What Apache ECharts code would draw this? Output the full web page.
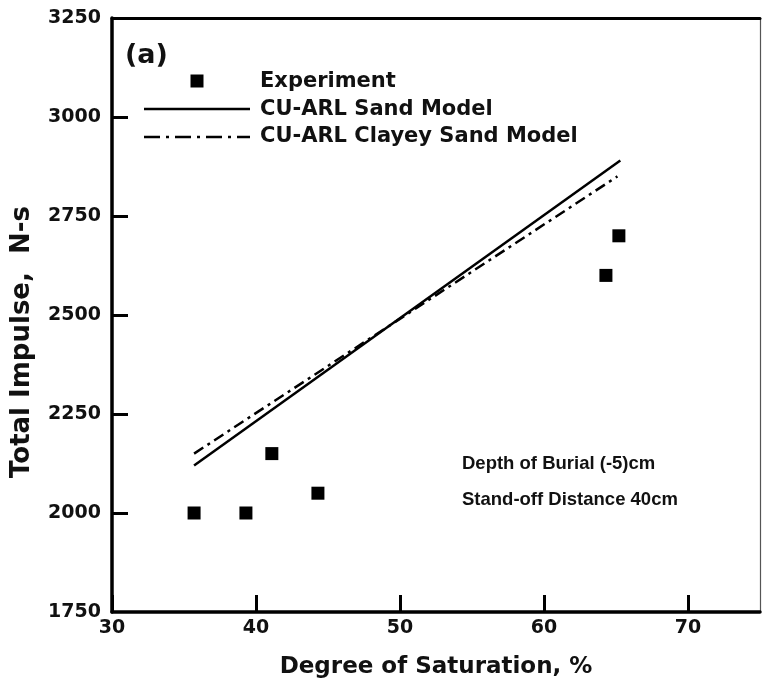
<!DOCTYPE html>
<html>
<head>
<meta charset="utf-8">
<script src="https://cdn.jsdelivr.net/npm/echarts@6/dist/echarts.min.js"></script>
<style>
html,body{margin:0;padding:0;background:#fff;}
#c{width:762px;height:686px;}
</style>
</head>
<body>
<div id="c"></div>
<script>
// Data
var expX = [35.7, 39.3, 41.1, 44.3, 64.3, 65.2];
var expY = [2000, 2000, 2150, 2050, 2600, 2700];
var sandX = [35.7, 65.3];
var sandY = [2120, 2890];
var clayX = [35.7, 65.1];
var clayY = [2150, 2850];
var xTicks = [30, 40, 50, 60, 70];
var yTicks = [1750, 2000, 2250, 2500, 2750, 3000, 3250];
var seriesNames = ['Experiment', 'CU-ARL Sand Model', 'CU-ARL Clayey Sand Model'];
var notes = ['Depth of Burial (-5)cm', 'Stand-off Distance 40cm'];

function pairs(xs, ys) { return xs.map(function (x, i) { return [x, ys[i]]; }); }

var F = 'DejaVu Sans';
var X_MIN = 30, X_MAX = 75;
var Y_MIN = 1750, Y_MAX = 3250;
var chart = echarts.init(document.getElementById('c'), null, {renderer: 'canvas'});
// 16px tick length expressed in x-axis units so the ticks go through the library's scale
var plotW = 762 - 112 - 2;
var tickLenX = 16 * (X_MAX - X_MIN) / plotW;
chart.setOption({
  animation: false,
  backgroundColor: '#fff',
  grid: {left: 112, right: 2, top: 18, bottom: 74},
  xAxis: [{
    type: 'value', min: X_MIN, max: X_MAX, interval: 10, position: 'bottom',
    axisLine: {show: true, onZero: false, lineStyle: {color: '#000', width: 3.5}},
    axisTick: {show: true, inside: true, length: 17, customValues: xTicks, lineStyle: {color: '#000', width: 3}},
    axisLabel: {show: true, margin: 7, customValues: xTicks, color: '#111', fontFamily: F, fontWeight: 'bold', fontSize: 19},
    splitLine: {show: false}
  }, {
    type: 'value', min: X_MIN, max: X_MAX, position: 'top',
    axisLine: {show: true, onZero: false, lineStyle: {color: '#000', width: 3}},
    axisTick: {show: false}, axisLabel: {show: false}, splitLine: {show: false}
  }],
  yAxis: [{
    type: 'value', min: Y_MIN, max: Y_MAX, interval: 250, position: 'left',
    axisLine: {show: true, onZero: false, lineStyle: {color: '#000', width: 3.5}},
    axisTick: {show: false},
    axisLabel: {show: true, margin: 11, color: '#111', fontFamily: F, fontWeight: 'bold', fontSize: 19,
      formatter: function (v) { return String(v); }},
    splitLine: {show: false}
  }, {
    type: 'value', min: Y_MIN, max: Y_MAX, position: 'right',
    axisLine: {show: true, onZero: false, lineStyle: {color: '#555', width: 1.2}},
    axisTick: {show: false}, axisLabel: {show: false}, splitLine: {show: false}
  }],
  series: [{
    name: seriesNames[0], type: 'scatter', symbol: 'rect', symbolSize: 13,
    itemStyle: {color: '#000', opacity: 1}, data: pairs(expX, expY), z: 5,
    markLine: {
      silent: true, symbol: ['none', 'none'],
      label: {show: false},
      lineStyle: {color: '#000', width: 3, type: 'solid'},
      data: yTicks.slice(1, -1).map(function (v) { return [{coord: [X_MIN, v]}, {coord: [X_MIN + tickLenX, v]}]; })
    }
  }, {
    name: seriesNames[1], type: 'line', showSymbol: false, symbol: 'none',
    lineStyle: {color: '#000', width: 2.5, type: 'solid'}, data: pairs(sandX, sandY)
  }, {
    name: seriesNames[2], type: 'line', showSymbol: false, symbol: 'none',
    lineStyle: {color: '#000', width: 2.5, type: [11, 5, 3, 5]}, data: pairs(clayX, clayY)
  }],
  graphic: [
    {type: 'text', x: 125, y: 56, style: {text: '(a)', font: 'bold 27px "DejaVu Sans"', fill: '#111', verticalAlign: 'middle'}},
    // legend
    {type: 'rect', shape: {x: 190.5, y: 74.5, width: 13, height: 13}, style: {fill: '#000'}},
    {type: 'line', shape: {x1: 144, y1: 109, x2: 250, y2: 109}, style: {stroke: '#000', lineWidth: 2.5}},
    {type: 'line', shape: {x1: 144, y1: 137, x2: 250, y2: 137}, style: {stroke: '#000', lineWidth: 2.5, lineDash: [16, 6, 3, 6]}},
    {type: 'text', x: 260, y: 82, style: {text: seriesNames[0], font: 'bold 21px "DejaVu Sans"', fill: '#111', verticalAlign: 'middle'}},
    {type: 'text', x: 260, y: 109.5, style: {text: seriesNames[1], font: 'bold 21px "DejaVu Sans"', fill: '#111', verticalAlign: 'middle'}},
    {type: 'text', x: 260, y: 136.5, style: {text: seriesNames[2], font: 'bold 21px "DejaVu Sans"', fill: '#111', verticalAlign: 'middle'}},
    // notes
    {type: 'text', x: 462, y: 464, style: {text: notes[0], font: 'bold 18.5px "Liberation Sans"', fill: '#111', verticalAlign: 'middle'}},
    {type: 'text', x: 462, y: 500, style: {text: notes[1], font: 'bold 18.5px "Liberation Sans"', fill: '#111', verticalAlign: 'middle'}},
    // axis titles
    {type: 'text', x: 436, y: 667, style: {text: 'Degree of Saturation, %', font: 'bold 23px "DejaVu Sans"', fill: '#111', align: 'center', verticalAlign: 'middle'}},
    {type: 'text', x: 22, y: 342, rotation: Math.PI / 2, style: {text: 'Total Impulse,  N-s', font: 'bold 26px "DejaVu Sans"', fill: '#111', align: 'center', verticalAlign: 'middle'}}
  ]
});
</script>
</body>
</html>
